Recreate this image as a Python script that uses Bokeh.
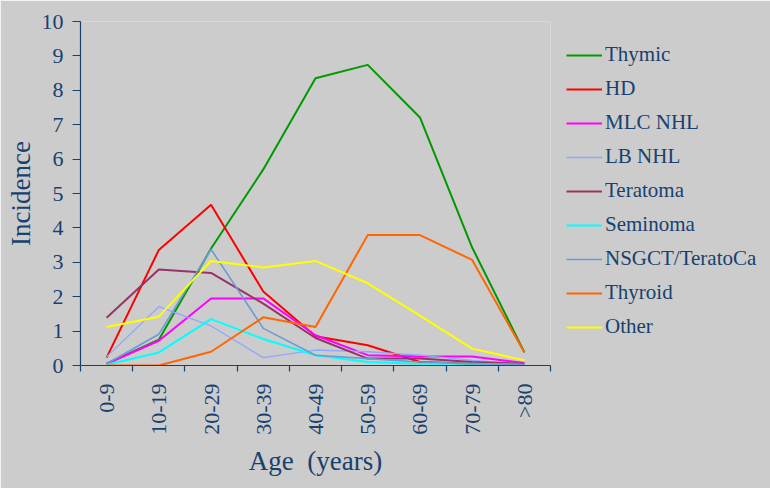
import numpy as np
from bokeh.plotting import figure
from bokeh.models import Range1d, FixedTicker, Legend, LegendItem
from bokeh.embed import file_html
from bokeh.resources import INLINE

ages = ["0-9", "10-19", "20-29", "30-39", "40-49", "50-59", "60-69", "70-79", ">80"]

thymic   = [0.05, 0.75, 3.40, 5.70, 8.35, 8.74, 7.21, 3.43, 0.38]
hd       = [0.23, 3.36, 4.67, 2.15, 0.85, 0.59, 0.10, 0.05, 0.05]
mlc_nhl  = [0.05, 0.72, 1.95, 1.95, 0.88, 0.30, 0.26, 0.26, 0.07]
lb_nhl   = [0.25, 1.71, 1.15, 0.23, 0.45, 0.40, 0.30, 0.15, 0.05]
teratoma = [1.39, 2.79, 2.69, 1.80, 0.80, 0.20, 0.20, 0.10, 0.05]
seminoma = [0.02, 0.38, 1.35, 0.77, 0.30, 0.10, 0.05, 0.05, 0.02]
nsgct    = [0.05, 0.91, 3.38, 1.08, 0.30, 0.20, 0.10, 0.05, 0.02]
thyroid  = [0.00, 0.00, 0.40, 1.40, 1.12, 3.79, 3.79, 3.07, 0.38]
other    = [1.12, 1.42, 3.04, 2.85, 3.04, 2.39, 1.45, 0.49, 0.15]

series_names = ["Thymic", "HD", "MLC NHL", "LB NHL", "Teratoma", "Seminoma",
                "NSGCT/TeratoCa", "Thyroid", "Other"]
series_values = [thymic, hd, mlc_nhl, lb_nhl, teratoma, seminoma, nsgct, thyroid, other]
colors = ["#009900", "#ff0000", "#ff00ff", "#8fa8ff", "#993366", "#00ffff",
          "#6c9bd2", "#ff6600", "#ffff00"]
widths = [2, 2, 2, 1.3, 2, 2, 1.6, 2, 2]

FONT = "Liberation Serif"
TXT = "#17416f"
BG = "#cccccc"

x = np.arange(len(ages)) + 0.5

p = figure(frame_width=470, frame_height=344, output_backend="svg", toolbar_location=None,
           x_range=Range1d(0, len(ages)), y_range=Range1d(0, 10),
           min_border_left=80, min_border_top=21, min_border_bottom=123,
           min_border_right=212)
p.background_fill_color = BG
p.border_fill_color = BG
p.outline_line_color = None
p.xgrid.visible = False
p.ygrid.visible = False

items = []
for name, vals, c, w in zip(series_names, series_values, colors, widths):
    r = p.line(x, vals, line_color=c, line_width=w)
    items.append(LegendItem(label=name, renderers=[r]))

# x axis: labels at centres, ticks at boundaries
p.xaxis.ticker = FixedTicker(ticks=list(x), minor_ticks=list(range(len(ages) + 1)))
p.xaxis.major_label_overrides = {float(v): lab for v, lab in zip(x, ages)}
p.xaxis.major_tick_line_color = None
p.xaxis.minor_tick_line_color = TXT
p.xaxis.minor_tick_out = 6
p.xaxis.minor_tick_in = 0
p.xaxis.major_label_orientation = np.pi / 2
p.xaxis.major_label_standoff = 12
p.xaxis.axis_label = "Age \u00a0(years)"
p.xaxis.axis_label_standoff = 8

p.yaxis.ticker = FixedTicker(ticks=list(range(0, 11)))
p.yaxis.minor_tick_line_color = None
p.yaxis.major_tick_out = 8
p.yaxis.major_tick_in = 0
p.yaxis.major_label_standoff = 9
p.yaxis.axis_label = "Incidence"
p.yaxis.axis_label_standoff = 3

for ax in (p.xaxis[0], p.yaxis[0]):
    ax.axis_line_color = TXT
    ax.axis_line_width = 1.2
    ax.major_tick_line_width = 1.2
    ax.minor_tick_line_width = 1.2
    ax.major_label_text_font = FONT
    ax.major_label_text_color = TXT
    ax.major_label_text_font_size = "22px"
    ax.axis_label_text_font = FONT
    ax.axis_label_text_color = TXT
    ax.axis_label_text_font_style = "normal"
p.xaxis.axis_label_text_font_size = "27px"
p.yaxis.axis_label_text_font_size = "27px"
p.yaxis.major_tick_line_color = TXT

legend = Legend(items=items, location=(16, 26), orientation="vertical",
                background_fill_alpha=0, border_line_color=None,
                padding=0, margin=0, spacing=9, glyph_width=36,
                glyph_height=20, label_height=20, label_standoff=3,
                label_text_font=FONT, label_text_color=TXT,
                label_text_font_size="21px")
p.add_layout(legend, "right")

open("out.html", "w").write(file_html(p, INLINE))
